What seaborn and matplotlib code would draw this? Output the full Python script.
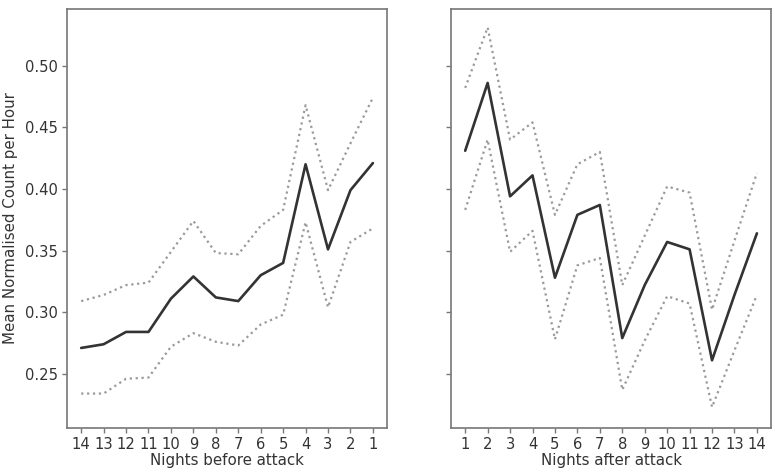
import numpy as np
import pandas as pd
import matplotlib
matplotlib.use("Agg")
import matplotlib.pyplot as plt
import seaborn as sns

sns.set_style("white")
plt.rcParams['font.family'] = ['DejaVu Sans']

before_labels = ["14", "13", "12", "11", "10", "9", "8", "7", "6", "5", "4", "3", "2", "1"]
before_mean = [0.271, 0.274, 0.284, 0.284, 0.311, 0.329, 0.312, 0.309, 0.330, 0.340, 0.420, 0.351, 0.399, 0.421]
before_upper = [0.309, 0.314, 0.322, 0.324, 0.349, 0.374, 0.348, 0.347, 0.370, 0.383, 0.468, 0.399, 0.437, 0.474]
before_lower = [0.234, 0.234, 0.246, 0.247, 0.272, 0.283, 0.276, 0.273, 0.290, 0.298, 0.373, 0.304, 0.357, 0.368]

after_labels = ["1", "2", "3", "4", "5", "6", "7", "8", "9", "10", "11", "12", "13", "14"]
after_mean = [0.431, 0.486, 0.394, 0.411, 0.328, 0.379, 0.387, 0.279, 0.322, 0.357, 0.351, 0.261, 0.314, 0.364]
after_upper = [0.482, 0.531, 0.440, 0.454, 0.379, 0.420, 0.430, 0.322, 0.362, 0.402, 0.397, 0.302, 0.358, 0.413]
after_lower = [0.383, 0.440, 0.349, 0.366, 0.278, 0.338, 0.344, 0.237, 0.277, 0.313, 0.307, 0.223, 0.269, 0.314]

fig = plt.figure(figsize=(7.75, 4.73), dpi=100)
ax1 = fig.add_axes([0.0865, 0.095, 0.4129, 0.886])
ax2 = fig.add_axes([0.582, 0.095, 0.4129, 0.886], sharey=ax1)

mean_color = "#333333"
band_color = "#9a9a9a"

def draw(ax, labels, mean, upper, lower, xlabel):
    pos = np.arange(len(labels))
    df = pd.DataFrame({"pos": pos, "mean": mean, "upper": upper, "lower": lower})
    sns.lineplot(data=df, x="pos", y="upper", ax=ax, color=band_color, linestyle=":", linewidth=1.6)
    sns.lineplot(data=df, x="pos", y="lower", ax=ax, color=band_color, linestyle=":", linewidth=1.6)
    sns.lineplot(data=df, x="pos", y="mean", ax=ax, color=mean_color, linewidth=1.9)
    ax.set_xticks(pos)
    ax.set_xticklabels(labels)
    ax.set_xlim(-0.63, len(labels) - 1 + 0.63)
    ax.set_xlabel(xlabel, fontsize=10.8, color="#333333", labelpad=1)
    ax.set_ylabel("")
    for s in ax.spines.values():
        s.set_color("#777777")
        s.set_linewidth(1.2)
    ax.tick_params(axis="both", which="both", length=3.5, width=1, color="#777777",
                   labelsize=10.6, labelcolor="#333333", bottom=True, left=True, pad=3)

draw(ax1, before_labels, before_mean, before_upper, before_lower, "Nights before attack")
draw(ax2, after_labels, after_mean, after_upper, after_lower, "Nights after attack")

ax1.set_ylim(0.206, 0.546)
ax1.set_yticks([0.25, 0.30, 0.35, 0.40, 0.45, 0.50])
ax1.set_yticklabels(["0.25", "0.30", "0.35", "0.40", "0.45", "0.50"])
ax1.set_ylabel("Mean Normalised Count per Hour", fontsize=10.8, color="#333333", labelpad=5)
plt.setp(ax2.get_yticklabels(), visible=False)

fig.savefig("out.png", dpi=100, facecolor="white")
